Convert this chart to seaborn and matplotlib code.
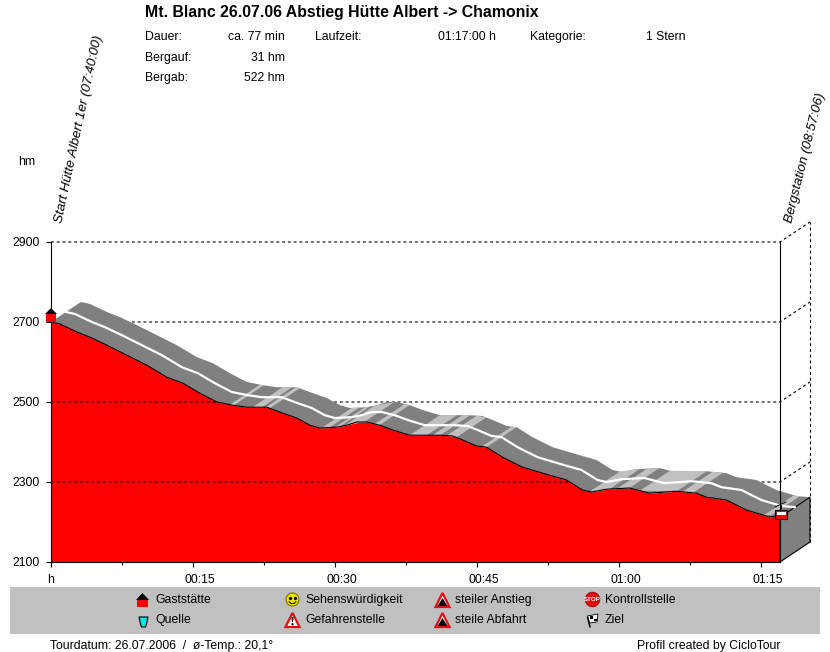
import numpy as np
import seaborn as sns
import matplotlib
matplotlib.use('Agg')
import matplotlib.pyplot as plt
from matplotlib.patches import Rectangle, Polygon, Circle
from matplotlib.transforms import ScaledTranslation

# profile: minutes since start, altitude in hm
minutes = [0, 0.95, 2.74, 4.12, 5.91, 7.6, 10.13, 12.24, 13.93, 15.72, 17.52, 19.2,
           20.68, 22.79, 24.48, 25.96, 27.33, 28.39, 30.18, 31.24, 32.29, 33.35,
           34.72, 36.09, 37.89, 41.05, 42.42, 43.48, 44.96, 46.01, 47.7, 49.81,
           52.66, 54.45, 56.14, 57.09, 58.67, 61.1, 63.21, 66.06, 68.17, 69.23,
           71.34, 73.45, 75.56, 77]
altitude = [2700, 2695, 2675, 2662, 2642, 2622, 2592, 2562, 2547, 2522, 2500, 2492,
            2487, 2487, 2472, 2460, 2442, 2435, 2437, 2442, 2450, 2450,
            2442, 2430, 2417, 2417, 2415, 2405, 2390, 2387, 2362, 2337,
            2317, 2305, 2280, 2275, 2282, 2285, 2272, 2277, 2272, 2262,
            2255, 2230, 2215, 2212]

# stretches where the ribbon is shaded light (start, end in minutes)
light_from = [18.9, 21.3, 22.7, 28.6, 30.0, 31.0, 34.2, 37.9, 40.3, 41.8, 45.5,
              56.9, 59.8, 62.2, 66.7, 75.3]
light_to = [19.3, 22.3, 23.1, 29.4, 30.5, 33.1, 34.7, 39.7, 41.1, 42.8, 46.0,
            59.0, 61.1, 66.1, 67.8, 75.9]

y_ticks = [2100, 2300, 2500, 2700, 2900]
x_ticks = [0, 15, 30, 45, 60, 75]
x_labels = ['h', '00:15', '00:30', '00:45', '01:00', '01:15']
x_minor = [7.5, 22.5, 37.5, 52.5, 67.5]

info_left = [('Dauer:', 'ca. 77 min'), ('Bergauf:', '31 hm'), ('Bergab:', '522 hm')]
legend_names = ['Gaststätte', 'Quelle', 'Sehenswürdigkeit', 'Gefahrenstelle',
                'steiler Anstieg', 'steile Abfahrt', 'Kontrollstelle', 'Ziel']

DX = 30 / 9.468   # depth of the 3d ribbon in minutes
DY = 50           # and in hm
DARK = '#808080'
LIGHT = '#c0c0c0'
FONT = 'Liberation Sans'
TEXT = 8.8
DASH = (0, (2.6, 2.6))

sns.set_theme(style='white')
plt.rcParams['font.family'] = FONT
plt.rcParams['font.size'] = TEXT

fig = plt.figure(figsize=(8.3, 6.52), dpi=100)
ax = fig.add_axes([51 / 830, 90 / 652, 729 / 830, 320 / 652])
ax.set_xlim(0, 77)
ax.set_ylim(2100, 2900)

t = np.array(minutes)
h = np.array(altitude)

ax.fill_between(t, 2100, h, color='#ff0000', lw=0, zorder=2)

# dashed grid with its back wall
for v in y_ticks[1:]:
    ax.plot([0, 77, 77 + DX], [v, v, v + DY], color='black', lw=0.8, ls=DASH,
            clip_on=False, zorder=3)
ax.plot([77 + DX, 77 + DX], [2100 + DY, 2900 + DY], color='black', lw=0.8,
        ls=DASH, clip_on=False, zorder=3)

# ribbon
ribbon = np.vstack([np.column_stack([t, h]), np.column_stack([t + DX, h + DY])[::-1]])
ax.add_patch(Polygon(ribbon, closed=True, fc=DARK, ec='none', clip_on=False, zorder=4))
for a, b in zip(light_from, light_to):
    ha, hb = np.interp([a, b], t, h)
    ax.add_patch(Polygon([(a, ha), (b, hb), (b + DX, hb + DY), (a + DX, ha + DY)],
                         closed=True, fc=LIGHT, ec='none', clip_on=False, zorder=5))

# side face
ax.add_patch(Polygon([(77, 2100), (77 + DX, 2100 + DY), (77 + DX, h[-1] + DY), (77, h[-1])],
                     closed=True, fc=DARK, ec='black', lw=0.8, clip_on=False, zorder=6))

sns.lineplot(x=t + DX / 2, y=h + DY / 2, ax=ax, color='white', lw=1.6, estimator=None,
             sort=False, zorder=7)
sns.lineplot(x=t, y=h, ax=ax, color='black', lw=0.8, estimator=None, sort=False, zorder=7)
for line in ax.lines:
    line.set_clip_on(False)

ax.spines['top'].set_visible(False)
for side in ['left', 'right', 'bottom']:
    ax.spines[side].set_visible(True)
    ax.spines[side].set_color('black')
    ax.spines[side].set_linewidth(0.8)
    ax.spines[side].set_zorder(8)

ax.set_yticks(y_ticks)
ax.set_xticks(x_ticks)
ax.set_xticklabels(x_labels)
ax.set_xticks(x_minor, minor=True)
ax.tick_params(axis='both', which='major', length=3.6, width=0.8, color='black', labelsize=TEXT,
               labelcolor='black', bottom=True, left=True)
ax.tick_params(axis='y', pad=4.3)
ax.tick_params(axis='x', pad=5)
ax.tick_params(axis='x', which='minor', length=2, width=0.8, color='black', bottom=True)
# the time labels sit a little right of their ticks
shift = ScaledTranslation(7 / 100, 0, fig.dpi_scale_trans)
for lab in ax.get_xticklabels()[1:]:
    lab.set_transform(lab.get_transform() + shift)

# overlay in pixel coordinates for the header, legend and footer
ov = fig.add_axes([0, 0, 1, 1], zorder=10)
ov.set_xlim(0, 830)
ov.set_ylim(652, 0)
ov.axis('off')
ov.patch.set_alpha(0)


def txt(x, y, s, **kw):
    kw.setdefault('va', 'center')
    kw.setdefault('fontsize', TEXT)
    kw.setdefault('color', 'black')
    ov.text(x, y, s, **kw)


txt(145, 13, 'Mt. Blanc 26.07.06 Abstieg Hütte Albert -> Chamonix', fontsize=11.4, fontweight='bold')
for (name, val), y in zip(info_left, [37, 58, 78]):
    txt(145, y, name)
    txt(285, y, val, ha='right')
txt(315, 37, 'Laufzeit:')
txt(496, 37, '01:17:00 h', ha='right')
txt(530, 37, 'Kategorie:')
txt(685, 37, '1 Stern', ha='right')
txt(18, 162, 'hm')
ov.text(65, 224, 'Start Hütte Albert 1er (07:40:00)', rotation=78, rotation_mode='anchor',
        ha='left', va='bottom', fontsize=9.7, style='italic', color='black')
ov.text(795, 224, 'Bergstation (08:57:06)', rotation=76, rotation_mode='anchor',
        ha='left', va='bottom', fontsize=9.7, style='italic', color='black')

# start marker
ov.add_patch(Rectangle((46, 314), 10, 8, fc='#ff0000', ec='none'))
ov.add_patch(Polygon([(45, 314), (51, 308), (57, 314)], fc='black', ec='none'))

# cable car at the end
ov.plot([775, 786], [507, 502], color='black', lw=0.7)
ov.plot([781, 781], [505, 510], color='black', lw=0.7)
ov.add_patch(Rectangle((774.5, 510), 12, 8.5, fc='#ff0000', ec='black', lw=0.8))
ov.add_patch(Rectangle((775.5, 511), 10, 3.5, fc='white', ec='black', lw=0.4))

# legend band
ov.add_patch(Rectangle((10, 587), 810, 47, fc=LIGHT, ec='none'))
for x, y, name in zip([155, 155, 305, 305, 455, 455, 605, 605],
                      [600, 620, 600, 620, 600, 620, 600, 620], legend_names):
    txt(x, y, name)

# house
ov.add_patch(Rectangle((137, 600), 11, 7, fc='#ff0000', ec='none'))
ov.add_patch(Polygon([(136, 600), (142.5, 593), (149, 600)], fc='black', ec='none'))
# cup
ov.add_patch(Polygon([(139, 617), (148, 617), (146.5, 624), (145.5, 627), (141.5, 627), (140.5, 624)],
                     fc='#00e8e8', ec='black', lw=0.8))
# smiley
ov.add_patch(Circle((292.5, 599.5), 6.5, fc='#e8e000', ec='#807000', lw=0.8))
ov.plot([290, 295], [597.5, 597.5], ls='none', marker='o', ms=1.3, color='black')
ov.plot([289, 291, 294, 296], [601.5, 603.5, 603.5, 601.5], color='black', lw=0.7)
# warning signs
ov.add_patch(Polygon([(285.5, 627), (292.5, 613), (299.5, 627)], fc='white', ec='#e01010', lw=1.6))
ov.add_patch(Polygon([(291.5, 617), (293.5, 617), (293, 622), (292, 622)], fc='black', ec='none'))
ov.add_patch(Circle((292.5, 624.2), 1.1, fc='black', ec='none'))
for y0 in [593, 613]:
    ov.add_patch(Polygon([(435.5, y0 + 14), (442.5, y0), (449.5, y0 + 14)], fc='white', ec='#e01010', lw=1.6))
    ov.add_patch(Polygon([(437.5, y0 + 13), (442.5, y0 + 5), (447.5, y0 + 13)], fc='black', ec='none'))
# stop sign
ov.add_patch(Circle((592.5, 599.5), 7.3, fc='#e01010', ec='#a00000', lw=0.6))
txt(592.5, 599.7, 'STOP', ha='center', fontsize=4.5, color='white', fontweight='bold')
# finish flag
ov.plot([587.5, 590], [617, 627], color='black', lw=1.1)
ov.add_patch(Polygon([(587.5, 616), (598, 614), (597, 622), (589.5, 623)], fc='white', ec='black', lw=0.6))
ov.add_patch(Rectangle((590, 616), 3, 2.8, fc='black', ec='none'))
ov.add_patch(Rectangle((593.5, 618.5), 3, 2.8, fc='black', ec='none'))

txt(50, 646, 'Tourdatum: 26.07.2006  /  ø-Temp.: 20,1°')
txt(637, 646, 'Profil created by CicloTour')

fig.savefig('out.png', dpi=100)
